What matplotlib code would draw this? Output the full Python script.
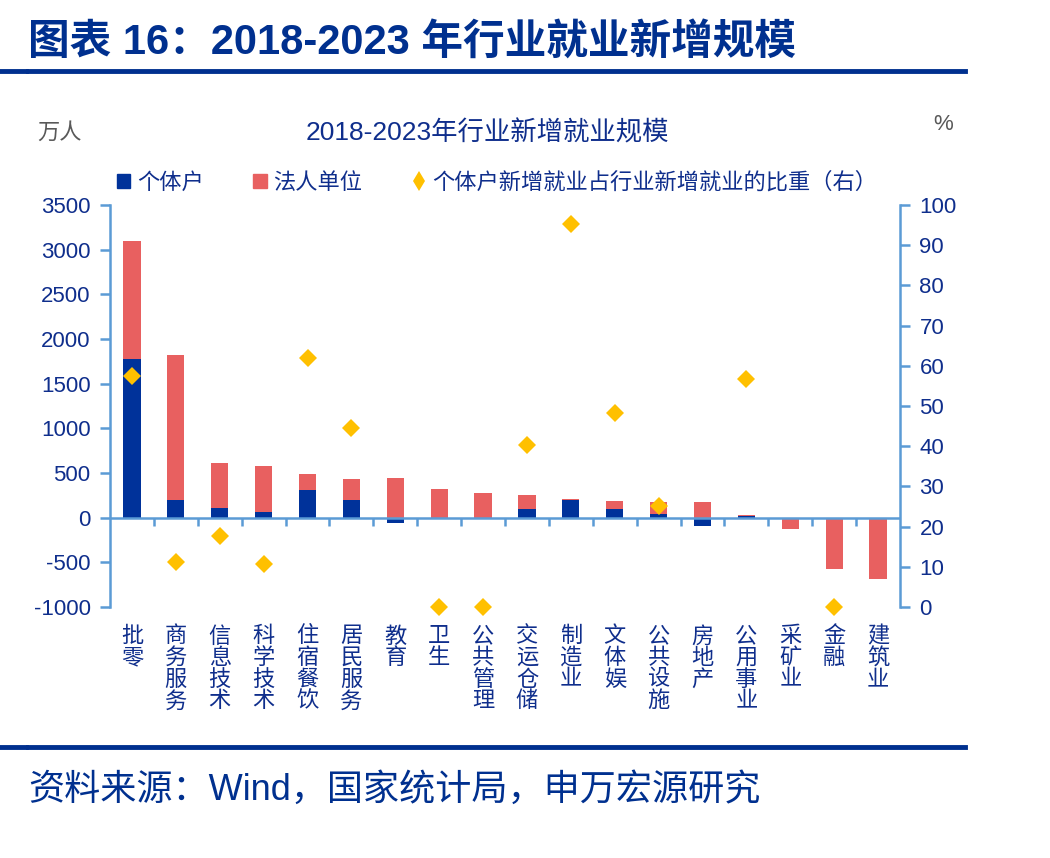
import numpy as np
import matplotlib
matplotlib.use("Agg")
import matplotlib.pyplot as plt
from matplotlib.patches import Patch
from matplotlib.lines import Line2D

plt.rcParams['font.family'] = ['Liberation Sans', 'Noto Sans CJK SC', 'DejaVu Sans']
plt.rcParams['axes.unicode_minus'] = False

# === Data (万人, %) ===
categories = ['批零', '商务服务', '信息技术', '科学技术', '住宿餐饮', '居民服务', '教育', '卫生', '公共管理',
              '交运仓储', '制造业', '文体娱', '公共设施', '房地产', '公用事业', '采矿业', '金融', '建筑业']
individual = [1780, 200, 108, 62, 306, 194, -60, 0, 0, 97, 198, 92, 44, -93, 14, 0, 0, 0]
legal = [1320, 1620, 507, 516, 186, 242, 448, 317, 272, 153, 14, 98, 131, 175, 11, -127, -578, -690]
ratio = [57.5, 11.1, 17.7, 10.8, 62.0, 44.5, np.nan, 0, 0, 40.2, 95.2, 48.3, 25.1, np.nan, 56.6, np.nan, 0, np.nan]
left_ticks = list(range(-1000, 3501, 500))
right_ticks = list(range(0, 101, 10))

NAVY = '#00329A'
RED = '#E86060'
GOLD = '#FFC000'
AXIS = '#5B9BD5'
TXT = '#0F2E8C'
GRAY = '#595959'

fig = plt.figure(figsize=(10.5, 8.58), dpi=100)
ax = fig.add_axes([110 / 1050, 1 - 607 / 858, 790 / 1050, 402 / 858])

x = np.arange(len(categories))
ind = np.array(individual, dtype=float)
leg = np.array(legal, dtype=float)

# stack positive parts upward, negative parts downward
ind_bottom = np.zeros_like(ind)
leg_bottom = np.where(leg >= 0, np.maximum(ind, 0), np.minimum(ind, 0))

w = 0.39
ax.bar(x, ind, w, bottom=ind_bottom, color=NAVY, zorder=2)
ax.bar(x, leg, w, bottom=leg_bottom, color=RED, zorder=2)
ax.axhline(0, color=AXIS, lw=1.8, zorder=3)

ax.set_xlim(-0.5, len(categories) - 0.5)
ax.set_ylim(-1000, 3500)
ax.set_yticks(left_ticks)
ax.set_yticklabels([str(v) for v in left_ticks])
ax.set_xticks(x)
ax.set_xticklabels(['\n'.join(c) for c in categories], va='top', linespacing=1.04)
ax.tick_params(axis='x', length=0, pad=14, labelsize=16, labelcolor=TXT)
ax.tick_params(axis='y', direction='out', length=7, width=1.8, color=AXIS,
               labelsize=16, labelcolor=TXT, pad=7)
for s in ['top', 'right', 'bottom']:
    ax.spines[s].set_visible(False)
ax.spines['left'].set_color(AXIS)
ax.spines['left'].set_linewidth(1.8)

# category-boundary ticks on the zero line
zero_frac = 1000 / 4500
sec = ax.secondary_xaxis(zero_frac)
sec.set_xticks(np.arange(0.5, len(categories) - 1, 1.0))
sec.set_xticklabels([])
sec.tick_params(direction='out', length=6, width=1.8, color=AXIS)
sec.spines['bottom'].set_visible(False)

# right axis: share
ax2 = ax.twinx()
ax2.set_ylim(0, 100)
ax2.set_yticks(right_ticks)
ax2.plot(x, ratio, linestyle='none', marker='D', markersize=9.5, color=GOLD,
         markeredgewidth=0, zorder=4, clip_on=False)
ax2.tick_params(axis='y', direction='out', length=7, width=1.8, color=AXIS,
                labelsize=16, labelcolor=TXT, pad=7)
for s in ['top', 'left', 'bottom']:
    ax2.spines[s].set_visible(False)
ax2.spines['right'].set_color(AXIS)
ax2.spines['right'].set_linewidth(1.8)

# legend
handles = [Patch(color=NAVY, label='个体户'),
           Patch(color=RED, label='法人单位'),
           Line2D([], [], linestyle='none', marker='d', markersize=10, color=GOLD,
                  markeredgewidth=0, label='个体户新增就业占行业新增就业的比重（右）')]
ax.legend(handles=handles, ncol=3, loc='lower center', bbox_to_anchor=(0.49, 1.0),
          frameon=False, fontsize=16, labelcolor=TXT, handlelength=0.6, handleheight=0.6,
          handletextpad=0.3, columnspacing=2.25, borderaxespad=0.1)

# texts around chart
fig.text(487 / 1050, 1 - 133 / 858, '2018-2023年行业新增就业规模', ha='center', va='center',
         fontsize=19, color=TXT)
fig.text(37 / 1050, 1 - 133 / 858, '万人', ha='left', va='center', fontsize=16, color=GRAY)
fig.text(943 / 1050, 1 - 124 / 858, '%', ha='center', va='center', fontsize=16, color=GRAY)

fig.text(28 / 1050, 1 - 44 / 858, '图表 16：2018-2023 年行业就业新增规模', ha='left', va='center',
         fontsize=30, fontweight='bold', color='#00308F')
fig.text(28 / 1050, 1 - 790 / 858, '资料来源：Wind，国家统计局，申万宏源研究', ha='left', va='center',
         fontsize=26, color='#00308F')

# rule lines under header and above source
for yy in [71, 747]:
    fig.add_artist(Line2D([0, 26 / 1050], [1 - yy / 858] * 2, color='#00308F', lw=3.5))
    fig.add_artist(Line2D([28 / 1050, 965 / 1050], [1 - yy / 858] * 2, color='#00308F', lw=3.5))

fig.savefig('out.png', dpi=100, facecolor='white')
